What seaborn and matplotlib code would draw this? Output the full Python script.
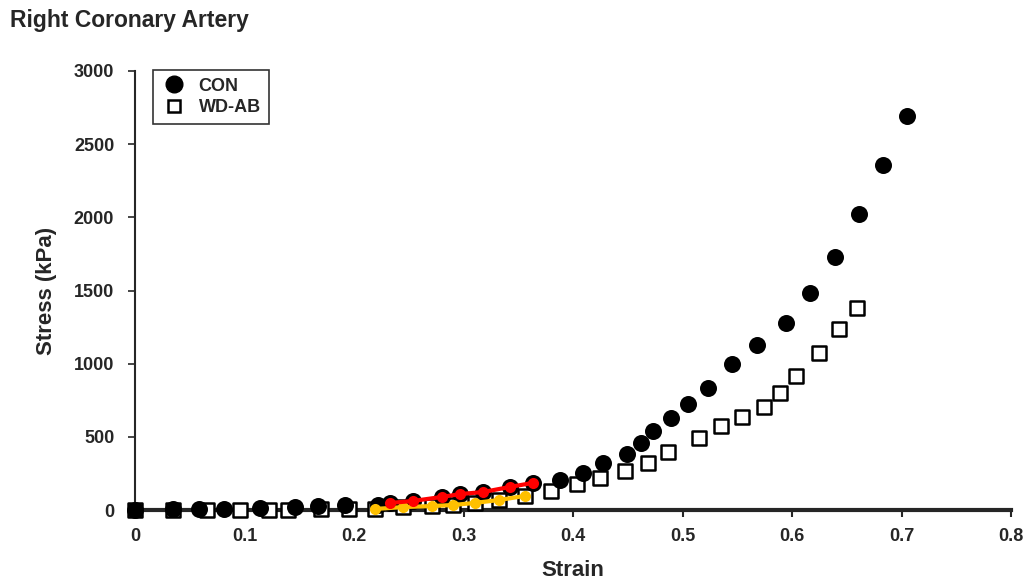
import matplotlib
matplotlib.use("Agg")
import matplotlib.pyplot as plt
import seaborn as sns
import pandas as pd
from matplotlib.lines import Line2D

# ---- data ----
con_strain = [0.0, 0.035, 0.058, 0.081, 0.114, 0.146, 0.167, 0.192, 0.222, 0.233,
              0.254, 0.280, 0.297, 0.318, 0.342, 0.363, 0.388, 0.409, 0.427, 0.449,
              0.462, 0.473, 0.489, 0.505, 0.523, 0.545, 0.568, 0.594, 0.616, 0.639,
              0.661, 0.683, 0.705]
con_stress = [0, 5, 5, 10, 12, 20, 25, 35, 34, 48,
              62, 89, 109, 123, 157, 185, 205, 253, 321, 383,
              458, 540, 629, 724, 834, 998, 1128, 1278, 1483, 1729,
              2023, 2358, 2693]

wd_strain = [0.0, 0.035, 0.066, 0.096, 0.122, 0.140, 0.170, 0.195, 0.219, 0.245,
             0.271, 0.290, 0.310, 0.332, 0.356, 0.380, 0.404, 0.425, 0.447, 0.468,
             0.487, 0.515, 0.535, 0.554, 0.574, 0.589, 0.604, 0.625, 0.643, 0.659]
wd_stress = [0, 0, 2, 2, 3, 3, 5, 5, 7, 20,
             27, 34, 48, 68, 96, 130, 178, 219, 267, 321,
             396, 492, 574, 636, 704, 800, 916, 1073, 1237, 1380]

con_fit_strain = [0.233, 0.254, 0.280, 0.297, 0.318, 0.342, 0.363]
con_fit_stress = [48, 62, 89, 109, 123, 157, 185]
wd_fit_strain = [0.219, 0.245, 0.271, 0.290, 0.310, 0.332, 0.356]
wd_fit_stress = [7, 20, 27, 34, 48, 68, 96]

x_ticks = [0, 0.1, 0.2, 0.3, 0.4, 0.5, 0.6, 0.7, 0.8]
x_ticklabels = ["0", "0.1", "0.2", "0.3", "0.4", "0.5", "0.6", "0.7", "0.8"]
y_ticks = [0, 500, 1000, 1500, 2000, 2500, 3000]
y_ticklabels = ["0", "500", "1000", "1500", "2000", "2500", "3000"]

con_df = pd.DataFrame({"Strain": con_strain, "Stress": con_stress})
wd_df = pd.DataFrame({"Strain": wd_strain, "Stress": wd_stress})
con_fit_df = pd.DataFrame({"Strain": con_fit_strain, "Stress": con_fit_stress})
wd_fit_df = pd.DataFrame({"Strain": wd_fit_strain, "Stress": wd_fit_stress})

sns.set_style("white")
plt.rcParams["font.family"] = ["Liberation Sans", "DejaVu Sans"]
plt.rcParams["font.weight"] = "bold"

fig = plt.figure(figsize=(10.27, 5.81), dpi=100)
ax = fig.add_axes([0.1315, 0.1222, 0.853, 0.7556])

sns.scatterplot(data=wd_df, x="Strain", y="Stress", ax=ax, marker="s", s=110,
                facecolor="white", edgecolor="black", linewidth=1.8, clip_on=False, zorder=3)
sns.scatterplot(data=con_df, x="Strain", y="Stress", ax=ax, marker="o", s=150,
                color="black", edgecolor="black", linewidth=0, clip_on=False, zorder=4)
sns.lineplot(data=wd_fit_df, x="Strain", y="Stress", ax=ax, color="#FFC000", lw=3,
             marker="o", markersize=8, markeredgewidth=0, zorder=5, clip_on=False)
sns.lineplot(data=con_fit_df, x="Strain", y="Stress", ax=ax, color="#FF0000", lw=3,
             marker="o", markersize=8, markeredgewidth=0, zorder=6, clip_on=False)

ax.set_xlim(0, 0.8)
ax.set_ylim(0, 3000)
ax.set_xticks(x_ticks)
ax.set_xticklabels(x_ticklabels, fontsize=13, fontweight="bold")
ax.set_yticks(y_ticks)
ax.set_yticklabels(y_ticklabels, fontsize=13, fontweight="bold")
ax.set_xlabel("Strain", fontsize=16, fontweight="bold", labelpad=11)
ax.set_ylabel("Stress (kPa)", fontsize=16, fontweight="bold", labelpad=12)

for s in ["top", "right"]:
    ax.spines[s].set_visible(False)
ax.spines["bottom"].set_linewidth(3)
ax.spines["left"].set_linewidth(1.5)
ax.spines["bottom"].set_zorder(2)
ax.tick_params(axis="x", direction="out", length=5, width=1.5, pad=8, bottom=True)
ax.tick_params(axis="y", direction="out", length=5, width=1.2, pad=10, left=True)

handles = [
    Line2D([], [], marker="o", color="black", linestyle="none", markersize=12),
    Line2D([], [], marker="s", markerfacecolor="white", markeredgecolor="black",
           markeredgewidth=1.8, linestyle="none", markersize=8.5),
]
leg = ax.legend(handles, ["CON", "WD-AB"], loc="upper left", bbox_to_anchor=(0.02, 1.003),
                frameon=True, fancybox=False, edgecolor="black",
                prop={"weight": "bold", "size": 13}, handletextpad=0.6,
                borderpad=0.45, labelspacing=0.25, handlelength=1.5, borderaxespad=0)
leg.get_frame().set_linewidth(1.2)

fig.text(0.01, 0.965, "Right Coronary Artery", fontsize=16.5, fontweight="bold",
         ha="left", va="center")

fig.savefig("out.png", dpi=100)
